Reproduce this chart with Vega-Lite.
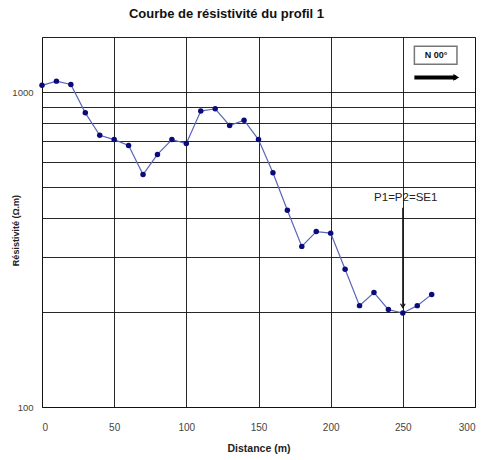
{
  "$schema": "https://vega.github.io/schema/vega-lite/v6.json",
  "width": 433,
  "height": 370,
  "autosize": {"type": "none"},
  "padding": {"left": 42, "top": 37, "right": 10, "bottom": 53},
  "background": "white",
  "config": {
    "font": "Liberation Sans",
    "view": {"stroke": "#222", "strokeWidth": 1}
  },
  "title": {
    "text": "Courbe de résistivité du profil 1",
    "font": "Liberation Sans",
    "fontSize": 13,
    "fontWeight": "bold",
    "color": "#111",
    "anchor": "middle",
    "dx": -32,
    "offset": 16
  },
  "datasets": {
    "profil": [
      {"distance": 0, "res": 1053},
      {"distance": 10, "res": 1086},
      {"distance": 20, "res": 1060},
      {"distance": 30, "res": 861},
      {"distance": 40, "res": 731},
      {"distance": 50, "res": 708},
      {"distance": 60, "res": 678},
      {"distance": 70, "res": 548},
      {"distance": 80, "res": 635},
      {"distance": 90, "res": 708},
      {"distance": 100, "res": 688},
      {"distance": 110, "res": 872},
      {"distance": 120, "res": 887},
      {"distance": 130, "res": 785},
      {"distance": 140, "res": 816},
      {"distance": 150, "res": 708},
      {"distance": 160, "res": 555},
      {"distance": 170, "res": 422},
      {"distance": 180, "res": 324},
      {"distance": 190, "res": 361},
      {"distance": 200, "res": 357},
      {"distance": 210, "res": 274},
      {"distance": 220, "res": 210},
      {"distance": 230, "res": 231},
      {"distance": 240, "res": 204},
      {"distance": 250, "res": 199},
      {"distance": 260, "res": 210},
      {"distance": 270, "res": 228}
    ],
    "fleche": [{"x": 250, "y1": 430, "y2": 207}],
    "label": [{"x": 252, "y": 463, "t": "P1=P2=SE1"}],
    "boite": [{"x1": 258, "x2": 287.5, "y1": 1228, "y2": 1401, "xt": 273, "yt": 1312, "t": "N 00°"}],
    "nord": [{"x1": 258, "x2": 287, "y": 1116, "xh": 287}]
  },
  "layer": [
    {
      "data": {"name": "profil"},
      "mark": {"type": "line", "color": "#5b66b8", "strokeWidth": 1.2},
      "encoding": {
        "x": {
          "field": "distance", "type": "quantitative",
          "scale": {"domain": [0, 300], "nice": false},
          "axis": {
            "values": [0, 50, 100, 150, 200, 250, 300],
            "title": "Distance (m)",
            "titleFontSize": 10.5, "titleFontWeight": "bold", "titleColor": "#222",
            "titlePadding": 11,
            "labelFontSize": 10, "labelColor": "#444", "labelPadding": 15,
            "ticks": false, "domain": false,
            "grid": true, "gridColor": "#111", "gridWidth": 1, "gridOpacity": 0.9
          }
        },
        "y": {
          "field": "res", "type": "quantitative",
          "scale": {"type": "log", "domain": [100, 1500], "nice": false},
          "axis": {
            "values": [100, 200, 300, 400, 500, 600, 700, 800, 900, 1000],
            "labelExpr": "datum.value == 100 || datum.value == 1000 ? datum.value : ''",
            "title": "Résistivité (Ω.m)",
            "titleFontSize": 9, "titleFontWeight": "bold", "titleColor": "#222",
            "titleX": -22, "titleY": 193,
            "labelFontSize": 9.5, "labelColor": "#444", "labelPadding": 9,
            "ticks": false, "domain": false,
            "grid": true, "gridColor": "#111", "gridWidth": 1, "gridOpacity": 0.9
          }
        }
      }
    },
    {
      "data": {"name": "profil"},
      "mark": {"type": "point", "filled": true, "color": "#0a0a7a", "size": 30, "opacity": 1},
      "encoding": {
        "x": {"field": "distance", "type": "quantitative"},
        "y": {"field": "res", "type": "quantitative"}
      }
    },
    {
      "data": {"name": "fleche"},
      "mark": {"type": "rule", "color": "#111", "strokeWidth": 1.3},
      "encoding": {
        "x": {"field": "x", "type": "quantitative"},
        "y": {"field": "y1", "type": "quantitative"},
        "y2": {"field": "y2"}
      }
    },
    {
      "data": {"name": "fleche"},
      "mark": {"type": "point", "shape": "M-0.6,-1L0,0L0.6,-1", "filled": false, "stroke": "#111", "strokeWidth": 1.2, "size": 60, "opacity": 1},
      "encoding": {
        "x": {"field": "x", "type": "quantitative"},
        "y": {"field": "y2", "type": "quantitative"}
      }
    },
    {
      "data": {"name": "label"},
      "mark": {"type": "text", "fontSize": 11.5, "color": "#222", "align": "center", "baseline": "middle"},
      "encoding": {
        "x": {"field": "x", "type": "quantitative"},
        "y": {"field": "y", "type": "quantitative"},
        "text": {"field": "t"}
      }
    },
    {
      "data": {"name": "boite"},
      "mark": {"type": "rect", "fill": "white", "stroke": "#777", "strokeWidth": 1.5},
      "encoding": {
        "x": {"field": "x1", "type": "quantitative"},
        "x2": {"field": "x2"},
        "y": {"field": "y1", "type": "quantitative"},
        "y2": {"field": "y2"}
      }
    },
    {
      "data": {"name": "boite"},
      "mark": {"type": "text", "fontSize": 9, "fontWeight": "bold", "color": "#111", "align": "center", "baseline": "middle"},
      "encoding": {
        "x": {"field": "xt", "type": "quantitative"},
        "y": {"field": "yt", "type": "quantitative"},
        "text": {"field": "t"}
      }
    },
    {
      "data": {"name": "nord"},
      "mark": {"type": "rule", "color": "#000", "strokeWidth": 4},
      "encoding": {
        "x": {"field": "x1", "type": "quantitative"},
        "x2": {"field": "x2"},
        "y": {"field": "y", "type": "quantitative"}
      }
    },
    {
      "data": {"name": "nord"},
      "mark": {"type": "point", "shape": "triangle-right", "filled": true, "color": "#000", "size": 45, "opacity": 1},
      "encoding": {
        "x": {"field": "xh", "type": "quantitative"},
        "y": {"field": "y", "type": "quantitative"}
      }
    }
  ]
}
